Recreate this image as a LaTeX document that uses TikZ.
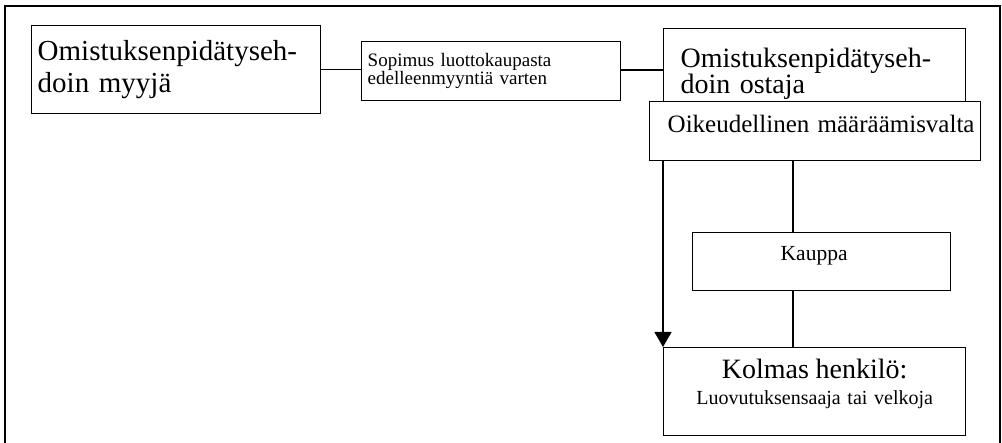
\documentclass[tikz,border=0pt]{standalone}
\usepackage{fontspec}
\setmainfont{Liberation Serif}
\usetikzlibrary{arrows.meta}
\tikzset{
  box/.style={draw, line width=1.4pt, fill=white, anchor=north west, inner xsep=6pt, inner ysep=0pt},
  conn/.style={line width=1.4pt},
  arr/.style={line width=1.4pt, -{Triangle[length=15pt,width=17pt]}},
  frame/.style={line width=2.4pt}
}
\begin{document}
\begin{tikzpicture}[x=1pt,y=-1pt]
\useasboundingbox (0,0) rectangle (1002,443);
\draw[frame] (5,443) -- (5,6) -- (1000,6) -- (1000,443);

\node[box, minimum width=289pt, minimum height=88pt, text width=277pt, align=left,
  font=\fontsize{29}{32}\selectfont] (A) at (31,25) {Omistuksenpidätyseh-\\doin myyjä};

\node[box, minimum width=259pt, minimum height=59pt, text width=247pt, align=left,
  font=\fontsize{19}{18}\selectfont] (B) at (361,41) {Sopimus luottokaupasta\\edelleenmyyntiä varten};

\node[box, minimum width=302pt, minimum height=91pt, inner xsep=17pt, text width=268pt, align=left,
  font=\fontsize{28}{26}\selectfont] (C) at (663,28) {Omistuksenpidätyseh-\\doin ostaja};

\node[box, minimum width=331pt, minimum height=59pt, inner xsep=5.5pt, inner ysep=6pt, text width=320pt, align=left,
  text height=25pt, text depth=22pt,
  font=\fontsize{25}{28}\selectfont] (D) at (649,101) {\hspace*{12.5pt}Oikeudellinen määräämisvalta};

\node[box, minimum width=258pt, minimum height=58pt, inner ysep=6pt, text width=246pt, align=left,
  text height=22pt, text depth=24pt,
  font=\fontsize{21.5}{24}\selectfont] (E) at (692,232) {\hspace*{82pt}Kauppa};

\node[box, minimum width=302pt, minimum height=88pt, text width=290pt, align=center,
  font=\fontsize{20}{27}\selectfont] (F) at (663,347) {{\fontsize{28}{27}\selectfont Kolmas henkilö:}\\[-1pt]Luovutuksensaaja tai velkoja\\[-8pt]\mbox{}};

\coordinate (vx) at (793,200);

\draw[conn] (A.east) -- (A.east -| B.west);
\draw[conn] (B.east |- 0,70) -- (C.west |- 0,70);
\draw[conn] (D.south -| vx) -- (E.north -| vx);
\draw[conn] (E.south -| vx) -- (F.north -| vx);
\draw[arr] (F.north west |- D.south) -- (F.north west);
\end{tikzpicture}
\end{document}
